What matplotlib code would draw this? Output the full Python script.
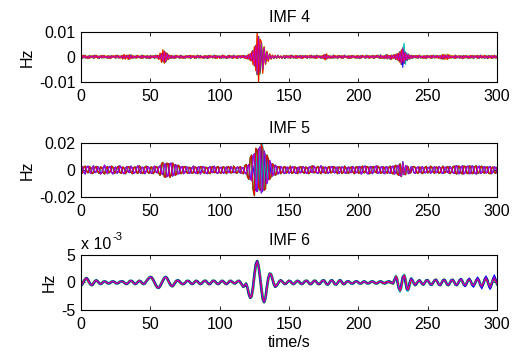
import numpy as np
import matplotlib
matplotlib.use("Agg")
import matplotlib.pyplot as plt

plt.rcParams['font.family'] = ['Liberation Sans', 'DejaVu Sans']
plt.rcParams['axes.unicode_minus'] = False

# ---------------- data (units noted per array) ----------------
# IMF 4, 1 s sampling, units of 1e-4 Hz
imf4_magenta = [
    3, -5, 6, -4, 2, -6, 5, -3, 4, -5, 6, -2, 3, -6, 4, -4, 5, -3, 2, -5,
    4, -6, 5, -2, 3, -5, 6, -4, 3, -3, 5, -6, 4, -2, 6, -8, 7, -5, 3, -4,
    5, -3, 2, -5, 6, -4, 3, -5, 4, -6, 5, -3, 4, -5, 6, -4, 5, -8, 12, -18,
    22, -20, 14, -9, 6, -5, 4, -6, 5, -3, 3, -5, 6, -4, 2, -5, 4, -3, 5, -6,
    4, -2, 3, -5, 6, -4, 5, -3, 2, -5, 4, -6, 5, -3, 3, -4, 6, -5, 4, -2,
    3, -5, 6, -4, 2, -6, 5, -3, 4, -5, 6, -2, 3, -5, 4, -4, 5, -3, 4, -6,
    6, -8, 12, -15, 25, -35, 45, -70, 80, -60, 55, -50, 35, -25, 18, -12, 9, -7, 5, -6,
    4, -5, 6, -3, 2, -5, 4, -6, 5, -3, 4, -5, 6, -4, 3, -5, 4, -3, 5, -6,
    4, -2, 5, -5, 3, -4, 6, -3, 4, -5, 6, -2, 3, -5, 4, -6, 9, -8, 5, -4,
    3, -5, 6, -4, 2, -6, 5, -3, 4, -5, 6, -2, 3, -6, 4, -4, 5, -3, 2, -5,
    4, -6, 5, -2, 3, -5, 6, -4, 3, -3, 5, -6, 4, -2, 6, -5, 7, -5, 3, -6,
    8, -7, 5, -9, 6, -5, 8, -10, 12, -15, 20, -30, 35, -25, 18, -14, 10, -8, 6, -5,
    5, -3, 4, -5, 6, -4, 3, -5, 4, -6, 5, -3, 4, -5, 6, -4, 5, -3, 4, -6,
    6, -8, 7, -5, 8, -6, 5, -4, 3, -5, 6, -4, 3, -5, 4, -6, 5, -3, 4, -5,
    3, -4, 5, -6, 4, -3, 5, -5, 6, -4, 3, -5, 4, -6, 5, -3, 4, -5, 6, -4,
    3]
imf4_red = [
    -4, 5, -3, 6, -5, 3, -6, 4, -2, 5, -4, 6, -5, 3, -2, 6, -4, 5, -3, 4,
    -6, 3, -4, 5, -3, 6, -2, 4, -5, 5, -8, 10, -9, 7, -10, 8, -6, 5, -4, 3,
    -5, 6, -3, 4, -6, 5, -2, 4, -5, 3, -6, 4, -3, 5, -4, 6, -10, 15, -22, 28,
    -25, 18, -12, 8, -6, 5, -4, 3, -5, 6, -2, 4, -5, 3, -6, 4, -3, 5, -4, 6,
    -3, 5, -6, 4, -2, 5, -4, 3, -6, 5, -3, 4, -5, 6, -2, 3, -4, 5, -6, 3,
    -5, 4, -3, 6, -4, 2, -5, 6, -3, 4, -5, 3, -6, 5, -2, 4, -3, 6, -5, 4,
    -8, 10, -15, 20, -30, 40, -55, 95, -100, 70, 60, -65, 40, -30, 22, -18, 12, -9, 7, -5,
    6, -4, 3, -5, 4, -6, 2, 5, -3, 4, -5, 6, -2, 3, -4, 6, -5, 3, -4, 5,
    -6, 4, -3, 5, -2, 6, -4, 3, -5, 4, -6, 5, -3, 4, -5, 8, -12, 12, -6, 4,
    -5, 3, -4, 6, -2, 5, -3, 4, -6, 5, -2, 3, -5, 4, -6, 5, -3, 4, -5, 6,
    -4, 3, -5, 6, -2, 4, -3, 5, -6, 4, -3, 5, -4, 6, -2, 3, -5, 4, -6, 5,
    -6, 8, -5, 6, -9, 7, -6, 10, -12, 15, -22, 28, -20, 15, -12, 9, -7, 6, -5, 4,
    -3, 5, -4, 6, -2, 3, -5, 4, -6, 5, -3, 4, -5, 6, -2, 3, -4, 5, -6, 4,
    -8, 10, -9, 7, -10, 8, -5, 4, -3, 5, -6, 4, -2, 5, -4, 3, -6, 5, -3, 4,
    -5, 6, -3, 4, -2, 5, -6, 4, -3, 5, -4, 6, -2, 3, -5, 4, -6, 5, -3, 4,
    -5]
imf4_cyan_t = [226, 227, 228, 229, 230, 231, 232, 233, 234, 235, 236, 237, 238]
imf4_cyan = [3, -5, 8, -12, 18, -25, 30, 55, -30, 15, -10, 6, -4]
imf4_blue_t = [228, 229, 230, 231, 232, 233, 234, 235, 236]
imf4_blue = [-6, 10, -18, 22, -42, 25, -15, 10, -6]
imf4_green_t = [125, 126, 127, 128, 129, 130, 131, 132, 133, 134]
imf4_green = [-20, 30, -45, 60, -70, 50, -40, 30, -20, 10]
imf4_yellow_t = [262, 263, 264, 265, 266, 267, 268]
imf4_yellow = [5, -10, 12, -8, 10, -6, 4]

# IMF 5, 1 s sampling, units of 1e-4 Hz
imf5_magenta = [
    10, 25, -15, -30, 20, 28, -10, -25, 15, 30, -20, -15, 25, 10, -30, -20, 15, 35, -10, -28,
    20, 25, -18, -30, 12, 22, -25, -10, 30, 15, -20, -28, 10, 25, -15, -20, 28, 12, -25, -18,
    15, 30, -12, -25, 20, 18, -28, -10, 25, 15, -20, -25, 12, 28, -15, -22, 20, 30, -25, -35,
    40, 45, -50, -40, 45, 50, -45, -35, 40, 30, -30, -25, 20, 25, -28, -15, 22, 18, -25, -20,
    15, 28, -20, -25, 18, 22, -30, -12, 25, 18, -22, -28, 15, 25, -18, -20, 28, 10, -25, -22,
    15, 20, -18, -25, 12, 22, -15, -20, 25, 10, -20, -18, 15, 22, -12, -25, 18, 15, -20, -30,
    25, 40, -60, -80, 100, 120, -150, -160, 150, 170, -170, -120, 140, 100, -100, -60, 70, 40, -45, -30,
    35, 25, -30, -20, 25, 15, -22, -25, 18, 20, -25, -15, 20, 22, -18, -25, 15, 20, -22, -18,
    25, 15, -20, -25, 18, 22, -15, -20, 28, 12, -22, -25, 15, 30, -18, -20, 22, 15, -25, -18,
    20, 25, -15, -22, 18, 20, -25, -12, 22, 18, -20, -25, 15, 22, -18, -20, 25, 12, -22, -18,
    20, 25, -30, -18, 25, 28, -22, -30, 20, 25, -28, -15, 22, 30, -25, -20, 18, 25, -22, -28,
    25, 20, -18, -25, 22, 28, -30, -20, 25, 35, -40, -45, 60, -35, 30, 25, -28, -20, 22, 18,
    -20, -25, 15, 22, -18, -20, 25, 12, -22, -18, 15, 20, -25, -15, 18, 22, -20, -18, 25, 15,
    -22, -25, 18, 20, -15, -22, 25, 12, -20, -25, 28, 30, -25, -28, 22, 30, -30, -20, 25, 28,
    -28, -25, 30, 22, -25, -30, 20, 28, -25, -20, 18, 25, -22, -18, 20, 25, -28, -15, 22, 18,
    -20]
imf5_red = [
    -15, -25, 20, 28, -10, -22, 25, 15, -28, -20, 18, 25, -12, -25, 22, 18, -20, -30, 15, 25,
    -22, -15, 28, 20, -25, -18, 15, 28, -20, -25, 22, 15, -28, -12, 25, 20, -15, -28, 18, 22,
    -20, -25, 30, 18, -25, -22, 20, 28, -15, -25, 18, 22, -28, -15, 25, 20, -22, -40, 45, 55,
    -50, -55, 50, 45, -55, -40, 50, 35, -40, -30, 35, 25, -28, -20, 22, 25, -18, -25, 20, 15,
    -25, -20, 22, 18, -28, -15, 25, 22, -18, -25, 20, 15, -22, -28, 18, 25, -20, -18, 22, 25,
    -18, -25, 20, 22, -15, -28, 25, 18, -22, -20, 28, 15, -25, -20, 18, 25, -22, -28, 30, 40,
    -50, -70, 90, 110, -140, -190, 160, 150, -130, -150, 190, 160, -150, -140, 110, 80, -70, -50, 45, 35,
    -40, -30, 25, 22, -28, -15, 20, 25, -22, -18, 15, 28, -25, -20, 22, 18, -28, -15, 25, 20,
    -18, -25, 22, 15, -28, -20, 25, 30, -22, -18, 20, 25, -15, -28, 22, 18, -25, -20, 18, 25,
    -22, -18, 25, 20, -15, -28, 22, 18, -25, -20, 28, 15, -22, -25, 18, 22, -15, -28, 20, 25,
    -25, -20, 18, 28, -22, -15, 25, 20, -28, -18, 22, 25, -15, -22, 28, 18, -25, -20, 22, 15,
    -18, -25, 20, 28, -22, -30, 25, 35, -30, -40, 45, -50, 45, -30, -35, 28, 20, -25, -18, 22,
    25, 18, -20, -25, 22, 15, -28, -18, 20, 25, -22, -15, 28, 20, -18, -25, 22, 18, -25, -20,
    15, 28, -22, -18, 25, 20, -28, -15, 22, 28, -25, -30, 28, 25, -22, -30, 28, 25, -22, -28,
    30, 25, -28, -22, 25, 30, -25, -20, 22, 28, -18, -25, 20, 22, -25, -28, 15, 22, -20, -25,
    18]
imf5_cyan_t = [125, 126, 127, 128, 129, 130, 131, 132, 133, 134, 135]
imf5_cyan = [40, -80, 120, -150, 170, -170, 190, -140, 120, -90, 60]
imf5_cyan2_t = [229, 230, 231, 232, 233, 234, 235, 236]
imf5_cyan2 = [-20, 25, -30, 60, -30, 20, -15, 10]
imf5_blue_t = list(range(124, 139))
imf5_blue = [30, -50, 80, -120, 140, -110, 150, -160, 130, -110, 80, -60, 40, -30, 20]
imf5_green_t = list(range(126, 137))
imf5_green = [-60, 100, -130, 120, -110, 140, -120, 90, -70, 50, -30]

# IMF 6, 1 s sampling, units of 1e-4 Hz
imf6_magenta = [
    -6, -3, 2, 6, 8, 5, 0, -4, -5, -2, 2, 4, 2, -1, -3, -2, 1, 2, 1, -1,
    -2, -1, 1, 2, 1, -1, -2, -1, 1, 2, 2, 0, -2, -3, -1, 2, 3, 2, -1, -3,
    -2, 1, 3, 2, -1, -3, -2, 2, 5, 8, 10, 9, 5, 0, -5, -9, -10, -7, -2, 3,
    8, 10, 8, 3, -2, -6, -7, -4, 0, 3, 4, 2, -1, -3, -3, -1, 2, 3, 2, -1,
    -3, -2, 1, 3, 2, -1, -3, -2, 1, 3, 3, 0, -3, -3, 0, 3, 3, 1, -2, -3,
    -1, 2, 3, 1, -2, -3, -1, 2, 3, 1, -1, -2, 0, 2, 3, 0, -4, -8, -6, -2,
    -10, -22, -28, -24, -8, 15, 33, 39, 30, 10, -12, -30, -36, -28, -8, 8, 16, 14, 6, -3,
    -8, -6, -2, 2, 4, 2, -1, -3, -2, 1, 3, 2, -1, -3, -2, 1, 3, 2, -1, -3,
    -2, 1, 3, 3, 0, -3, -3, 0, 3, 3, 0, -3, -3, 0, 3, 4, 1, -3, -4, -1,
    3, 4, 1, -3, -4, -1, 3, 4, 1, -3, -3, 0, 2, 2, 0, -2, -2, 0, 2, 2,
    0, -2, -2, 0, 2, 1, -1, -2, -1, 1, 2, 1, -1, -2, -1, 1, 2, 1, -1, -2,
    -1, 1, 2, 1, -1, -2, 5, 10, 3, -10, -14, -4, 10, 12, 0, -13, -12, 0, 7, 4,
    -2, -5, -2, 2, 4, 1, -3, -4, 0, 4, 4, 0, -4, -4, 0, 4, 5, 1, -4, -5,
    -1, 4, 5, 1, -4, -5, -1, 4, 5, 1, -4, -5, -1, 4, 6, 2, -4, -6, -2, 4,
    6, 2, -4, -6, -2, 4, 7, 3, -5, -8, -3, 5, 9, 4, -5, -10, -4, 5, 10, 4,
    -3]
imf6_red = [
    -4, -1, 4, 7, 6, 2, -2, -5, -4, 0, 3, 3, 1, -2, -3, -1, 2, 2, 0, -2,
    -2, 0, 2, 2, 0, -2, -2, 0, 2, 2, 1, -1, -3, -2, 0, 3, 3, 1, -2, -3,
    -1, 2, 3, 1, -2, -3, -1, 3, 6, 9, 9, 7, 3, -2, -7, -10, -9, -5, 0, 5,
    9, 9, 6, 1, -4, -7, -6, -2, 2, 4, 3, 0, -2, -3, -2, 0, 3, 3, 1, -2,
    -3, -1, 2, 3, 1, -2, -3, -1, 2, 3, 2, -1, -3, -2, 1, 3, 2, 0, -3, -2,
    0, 3, 2, 0, -3, -2, 0, 3, 2, 0, -2, -1, 1, 3, 2, -2, -5, -7, -4, -3,
    -8, -18, -25, -27, -15, 8, 28, 36, 32, 15, -5, -25, -34, -30, -14, 4, 14, 16, 9, 0,
    -6, -5, -1, 3, 3, 1, -2, -3, -1, 2, 3, 1, -2, -3, -1, 2, 3, 1, -2, -3,
    -1, 2, 3, 2, -1, -3, -2, 1, 3, 2, -1, -3, -2, 1, 4, 3, 0, -4, -3, 0,
    4, 3, 0, -4, -3, 0, 4, 3, -1, -3, -2, 1, 2, 1, -1, -2, -1, 1, 2, 1,
    -1, -2, -1, 1, 2, 0, -2, -2, 0, 2, 1, 0, -2, -1, 0, 2, 1, -1, -2, 0,
    1, 2, 0, -1, -1, 1, 3, 12, 8, -8, -16, -10, 6, 14, 8, -8, -14, -6, 4, 3,
    -1, -3, -1, 2, 3, 0, -3, -3, 1, 4, 3, -1, -4, -3, 1, 4, 4, 0, -4, -4,
    0, 4, 4, 0, -4, -4, 0, 4, 4, 0, -4, -4, 0, 4, 5, 1, -4, -5, -1, 4,
    5, 1, -4, -5, -1, 4, 5, 1, -4, -5, -1, 4, 5, 1, -4, -5, -1, 4, 5, 1,
    -3]
imf6_blue_t = list(range(270, 301))
imf6_blue = [-3, -5, -1, 5, 7, 2, -5, -8, -3, 5, 8, 3, -6, -9, -3, 6, 10, 4, -7, -12,
             -4, 7, 12, 5, -8, -13, -5, 8, 14, 6, -4]
imf6_cyan_t = list(range(226, 241))
imf6_cyan = [4, 12, 6, -14, -18, -8, 12, 15, 2, -16, -16, -2, 9, 6, 0]

x_ticks = [0, 50, 100, 150, 200, 250, 300]
titles = ["IMF 4", "IMF 5", "IMF 6"]
y_ticks = [[-0.01, 0, 0.01], [-0.02, 0, 0.02], [-0.005, 0, 0.005]]
y_ticklabels = [["-0.01", "0", "0.01"], ["-0.02", "0", "0.02"], ["-5", "0", "5"]]

# MATLAB default colour order
C_B = (0, 0, 1)
C_G = (0, 0.5, 0)
C_R = (1, 0, 0)
C_C = (0, 0.75, 0.75)
C_M = (0.75, 0, 0.75)
C_Y = (0.75, 0.75, 0)

U = 1e-4
FS = 11.5

fig = plt.figure(figsize=(5.13, 3.6), dpi=100)
positions = [[0.158, 0.772, 0.811, 0.140],
             [0.158, 0.453, 0.811, 0.150],
             [0.158, 0.139, 0.811, 0.153]]
axes = [fig.add_axes(p) for p in positions]


def arr(v):
    return np.asarray(v, dtype=float) * U


def tt(v):
    return np.arange(len(v))


lw = 0.7
ax = axes[0]
ax.plot(tt(imf4_magenta), arr(imf4_magenta), color=C_G, lw=1.2)
ax.plot(tt(imf4_red), arr(imf4_red), color=C_Y, lw=1.0)
ax.plot(imf4_green_t, arr(imf4_green), color=C_G, lw=lw)
ax.plot(imf4_yellow_t, arr(imf4_yellow), color=C_Y, lw=lw)
ax.plot(imf4_blue_t, arr(imf4_blue), color=C_B, lw=lw)
ax.plot(imf4_cyan_t, arr(imf4_cyan), color=C_C, lw=lw)
ax.plot(tt(imf4_red), arr(imf4_red), color=C_R, lw=lw)
ax.plot(tt(imf4_magenta), arr(imf4_magenta), color=C_M, lw=lw)

ax = axes[1]
ax.plot(tt(imf5_red), arr(imf5_red), color=C_G, lw=1.1)
ax.plot(tt(imf5_magenta), arr(imf5_magenta), color=C_B, lw=1.0)
ax.plot(imf5_blue_t, arr(imf5_blue), color=C_B, lw=lw)
ax.plot(imf5_green_t, arr(imf5_green), color=C_G, lw=lw)
ax.plot(imf5_cyan_t, arr(imf5_cyan), color=C_C, lw=lw)
ax.plot(imf5_cyan2_t, arr(imf5_cyan2), color=C_C, lw=lw)
ax.plot(tt(imf5_red), arr(imf5_red), color=C_R, lw=lw)
ax.plot(tt(imf5_magenta), arr(imf5_magenta), color=C_M, lw=lw)

ax = axes[2]
ax.plot(tt(imf6_magenta), arr(imf6_magenta), color=C_G, lw=1.9)
ax.plot(tt(imf6_red), arr(imf6_red), color=C_C, lw=1.6)
ax.plot(imf6_cyan_t, arr(imf6_cyan), color=C_C, lw=lw)
ax.plot(imf6_blue_t, arr(imf6_blue), color=C_B, lw=lw)
ax.plot(tt(imf6_magenta), arr(imf6_magenta), color=C_B, lw=1.2)
ax.plot(tt(imf6_red), arr(imf6_red), color=C_R, lw=lw)
ax.plot(tt(imf6_magenta), arr(imf6_magenta), color=C_M, lw=lw)

for i, ax in enumerate(axes):
    ax.set_xlim(0, 300)
    ax.set_ylim(y_ticks[i][0], y_ticks[i][-1])
    ax.set_xticks(x_ticks)
    ax.set_xticklabels([str(v) for v in x_ticks])
    ax.set_yticks(y_ticks[i])
    ax.set_yticklabels(y_ticklabels[i])
    ax.tick_params(direction='in', top=True, right=True, length=3, width=0.6,
                   labelsize=FS, colors='black')
    ax.tick_params(axis='x', pad=5)
    ax.tick_params(axis='y', pad=4)
    for s in ax.spines.values():
        s.set_linewidth(0.8)
        s.set_color('black')
    ax.set_title(titles[i], fontsize=FS, pad=7)
    ax.set_ylabel("Hz", fontsize=FS, labelpad=3)

axes[2].set_xlabel("time/s", fontsize=FS, labelpad=2)
base = axes[2].text(0.0, 1.06, "x 10", transform=axes[2].transAxes, fontsize=FS,
                    ha='left', va='bottom')
fig.canvas.draw()
bb = base.get_window_extent()
fig.text((bb.x1 + 1) / fig.bbox.width, (bb.y1 - 5) / fig.bbox.height, "-3",
         fontsize=8, ha='left', va='bottom')

fig.savefig("out.png", dpi=100)
